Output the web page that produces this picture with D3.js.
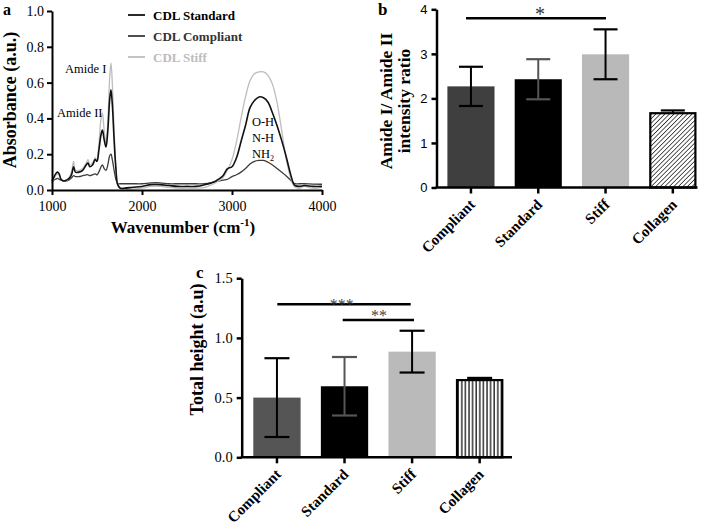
<!DOCTYPE html>
<html><head><meta charset="utf-8">
<script src="https://cdn.jsdelivr.net/npm/d3@7"></script>
<style>body{margin:0;background:#fff}svg{display:block}</style>
</head><body><svg id="chart" width="709" height="526"></svg>
<script>
// ---------- Panel a: FTIR spectra ----------
const wavenumbers = [1000,1020,1040,1060,1080,1100,1130,1160,1200,1220,1240,1260,1300,1340,1380,1400,1420,1450,1480,1500,1520,1545,1560,1580,1600,1620,1640,1655,1670,1690,1710,1730,1760,1800,1900,2000,2100,2200,2300,2400,2500,2600,2700,2800,2850,2900,2950,3000,3050,3100,3150,3200,3250,3300,3350,3400,3450,3500,3550,3600,3650,3680,3700,3750,3800,3900,4000];
const absStandard = [0.05,0.07,0.09,0.10,0.09,0.06,0.05,0.055,0.07,0.09,0.13,0.10,0.10,0.11,0.14,0.15,0.13,0.14,0.17,0.16,0.22,0.31,0.335,0.28,0.24,0.33,0.50,0.56,0.48,0.28,0.12,0.03,0.01,0.01,0.015,0.02,0.03,0.03,0.025,0.02,0.02,0.02,0.03,0.045,0.06,0.08,0.12,0.13,0.18,0.27,0.36,0.46,0.50,0.52,0.515,0.49,0.43,0.36,0.28,0.19,0.09,0.04,0.025,0.02,0.025,0.02,0.02];
const absCompliant = [0.04,0.055,0.06,0.065,0.06,0.055,0.05,0.05,0.06,0.07,0.08,0.075,0.075,0.08,0.085,0.085,0.08,0.085,0.09,0.085,0.10,0.13,0.14,0.12,0.11,0.14,0.19,0.20,0.17,0.11,0.06,0.035,0.035,0.035,0.035,0.035,0.04,0.04,0.035,0.035,0.035,0.035,0.035,0.045,0.05,0.055,0.06,0.075,0.085,0.10,0.12,0.145,0.16,0.165,0.165,0.155,0.14,0.12,0.10,0.08,0.055,0.04,0.035,0.035,0.035,0.033,0.032];
const absStiff = [0.04,0.06,0.08,0.09,0.08,0.06,0.05,0.05,0.08,0.11,0.16,0.11,0.11,0.12,0.15,0.17,0.14,0.15,0.18,0.17,0.25,0.40,0.43,0.33,0.26,0.38,0.62,0.71,0.60,0.34,0.13,0.03,0.01,0.005,0.005,0.01,0.02,0.02,0.015,0.01,0.01,0.01,0.015,0.035,0.05,0.07,0.11,0.17,0.27,0.40,0.52,0.61,0.65,0.66,0.66,0.64,0.59,0.49,0.34,0.18,0.07,0.03,0.015,0.01,0.02,0.01,0.015];
const specTicksX = [1000,2000,3000,4000];
const specTicksY = [0,0.2,0.4,0.6,0.8,1.0];
const seriesNames = ["CDL Standard","CDL Compliant","CDL Stiff"];

// ---------- Panel b & c: bar charts ----------
const groups = ["Compliant","Standard","Stiff","Collagen"];
const ratioMean = [2.27, 2.43, 2.99, 1.69];
const ratioErr  = [0.44, 0.45, 0.56, 0.04];
const ratioTicks = [0,1,2,3,4];
const heightMean = [0.50, 0.595, 0.885, 0.655];
const heightErr  = [0.33, 0.245, 0.175, 0.01];
const heightTicks = [0,0.5,1.0,1.5];

const SERIF = "'Liberation Serif','Times New Roman',serif";
const SANS = "'Liberation Sans',Arial,sans-serif";
const svg = d3.select("#chart");

// patterns
const defs = svg.append("defs");
const pd = defs.append("pattern").attr("id","diag").attr("patternUnits","userSpaceOnUse")
  .attr("width",3.2).attr("height",3.2).attr("patternTransform","rotate(45)");
pd.append("rect").attr("width",3.2).attr("height",3.2).attr("fill","#fff");
pd.append("line").attr("x1",0).attr("y1",0).attr("x2",0).attr("y2",3.2).attr("stroke","#000").attr("stroke-width",1.3);
const pv = defs.append("pattern").attr("id","vert").attr("patternUnits","userSpaceOnUse")
  .attr("width",3.6).attr("height",4);
pv.append("rect").attr("width",3.6).attr("height",4).attr("fill","#fff");
pv.append("line").attr("x1",1).attr("y1",0).attr("x2",1).attr("y2",4).attr("stroke","#000").attr("stroke-width",1.2);

function styleAxis(g, sw){
  g.selectAll("path.domain").attr("stroke","#000").attr("stroke-width",sw);
  g.selectAll(".tick line").attr("stroke","#000").attr("stroke-width",sw);
}

// ===== Panel a =====
const xA = d3.scaleLinear().domain([1000,4000]).range([52,322]);
const yA = d3.scaleLinear().domain([0,1]).range([190,11]);
const gA = svg.append("g");
const series = [
  {vals:absCompliant, color:"#3c3c3c", w:1.3},
  {vals:absStiff, color:"#bdbdbd", w:1.3},
  {vals:absStandard, color:"#111", w:1.6}
];
const line = d3.line().curve(d3.curveCatmullRom.alpha(0.5));
series.forEach(s=>{
  gA.append("path").attr("fill","none").attr("stroke",s.color).attr("stroke-width",s.w)
    .attr("d", line(wavenumbers.map((w,i)=>[xA(w), yA(s.vals[i])])));
});
const axAx = gA.append("g").attr("transform","translate(0,190)")
  .call(d3.axisBottom(xA).tickValues(specTicksX).tickFormat(d3.format("d")).tickSize(5).tickSizeOuter(0).tickPadding(6));
styleAxis(axAx,2);
axAx.selectAll("text").attr("font-family",SERIF).attr("font-size",14).attr("fill","#000");
const axAy = gA.append("g").attr("transform","translate(52,0)")
  .call(d3.axisLeft(yA).tickValues(specTicksY).tickFormat(d3.format(".1f")).tickSize(5).tickSizeOuter(0).tickPadding(3));
styleAxis(axAy,2);
axAy.selectAll("text").attr("font-family",SERIF).attr("font-size",14).attr("fill","#000");

gA.append("text").attr("x",3).attr("y",15).attr("font-family",SERIF).attr("font-weight","bold").attr("font-size",16).text("a");
const xl = gA.append("text").attr("x",183).attr("y",233).attr("text-anchor","middle")
  .attr("font-family",SERIF).attr("font-weight","bold").attr("font-size",17);
xl.append("tspan").text("Wavenumber (cm");
xl.append("tspan").attr("font-size",11).attr("dy",-7).text("-1");
xl.append("tspan").attr("dy",7).text(")");
gA.append("text").attr("transform","translate(16,100) rotate(-90)").attr("text-anchor","middle")
  .attr("font-family",SERIF).attr("font-weight","bold").attr("font-size",18).text("Absorbance (a.u.)");

// legend
const legColors = ["#111","#3c3c3c","#bdbdbd"];
const legText = ["#000","#333","#bdbdbd"];
seriesNames.forEach((n,i)=>{
  const y = 15 + i*21;
  gA.append("line").attr("x1",128).attr("x2",145).attr("y1",y).attr("y2",y).attr("stroke",legColors[i]).attr("stroke-width",1.8);
  gA.append("text").attr("x",153).attr("y",y+4.5).attr("font-family",SERIF).attr("font-weight","bold")
    .attr("font-size",13).attr("fill",legText[i]).text(n);
});
// annotations
const ann = (t,x,y)=>gA.append("text").attr("x",x).attr("y",y).attr("font-family",SERIF).attr("font-size",12.5).attr("fill","#000").text(t);
ann("Amide I",65,73);
ann("Amide II",57,117);
gA.append("text").attr("x",263).attr("y",126).attr("text-anchor","middle").attr("font-family",SERIF).attr("font-size",12.5).text("O-H");
gA.append("text").attr("x",263).attr("y",142).attr("text-anchor","middle").attr("font-family",SERIF).attr("font-size",12.5).text("N-H");
const nh2 = gA.append("text").attr("x",263).attr("y",158).attr("text-anchor","middle").attr("font-family",SERIF).attr("font-size",12.5);
nh2.append("tspan").text("NH");
nh2.append("tspan").attr("font-size",8).attr("dy",3).text("2");

// ===== bar panel helper =====
function barPanel(opt){
  const g = svg.append("g");
  const x = d3.scaleBand().domain(groups).range(opt.xr).paddingInner(0.3).paddingOuter(0);
  const y = d3.scaleLinear().domain(opt.yd).range(opt.yr);
  const bw = x.bandwidth();
  groups.forEach((c,i)=>{
    const v = opt.mean[i], e = opt.err[i];
    const cx = x(c)+bw/2;
    const isCol = i===3;
    if(!isCol){
      g.append("rect").attr("x",x(c)).attr("y",y(v)).attr("width",bw).attr("height",y(0)-y(v)).attr("fill",opt.colors[i]);
    }
    const ec = opt.errColors[i];
    g.append("line").attr("x1",cx).attr("x2",cx).attr("y1",y(v+e)).attr("y2",y(v-e)).attr("stroke",ec).attr("stroke-width",2);
    [v+e, v-e].forEach(t=>g.append("line").attr("x1",cx-opt.cap/2).attr("x2",cx+opt.cap/2).attr("y1",y(t)).attr("y2",y(t)).attr("stroke",ec).attr("stroke-width",2.2));
    if(isCol){
      g.append("rect").attr("x",x(c)+1).attr("y",y(v)+1).attr("width",bw-2).attr("height",y(0)-y(v)-1)
        .attr("fill",`url(#${opt.pattern})`).attr("stroke","#000").attr("stroke-width",2.2);
    }
  });
  // axes
  const ay = g.append("g").attr("transform",`translate(${opt.ax},0)`)
    .call(d3.axisLeft(y).tickValues(opt.ticks).tickFormat(opt.fmt).tickSize(5).tickSizeOuter(0).tickPadding(4));
  styleAxis(ay,2.5);
  ay.selectAll("text").attr("font-family",opt.tickFont).attr("font-size",opt.tickSize).attr("fill","#000");
  const axb = g.append("g").attr("transform",`translate(0,${y(0)})`)
    .call(d3.axisBottom(x).tickSize(6).tickSizeOuter(0).tickFormat(""));
  axb.select("path.domain").remove();
  axb.selectAll(".tick line").attr("stroke","#000").attr("stroke-width",2.5);
  g.append("line").attr("x1",opt.ax-1).attr("x2",opt.xend).attr("y1",y(0)).attr("y2",y(0)).attr("stroke","#000").attr("stroke-width",2.5);
  groups.forEach(c=>{
    const cx = x(c)+bw/2;
    g.append("text").attr("transform",`translate(${cx+5},${y(0)+18}) rotate(-45)`).attr("text-anchor","end")
      .attr("font-family",SERIF).attr("font-weight","bold").attr("font-size",15).attr("fill","#000").text(c);
  });
  return {g,x,y};
}

// ===== Panel b =====
const pb = barPanel({xr:[447.4,696.4], yd:[0,4], yr:[187.5,9.3], mean:ratioMean, err:ratioErr,
  colors:["#3f3f3f","#000","#b9b9b9"], errColors:["#000","#555","#000","#000"], cap:24, pattern:"diag",
  ax:436.5, xend:697.5, ticks:ratioTicks, fmt:d3.format("d"), tickFont:SANS, tickSize:13});
pb.g.append("text").attr("x",378).attr("y",15).attr("font-family",SERIF).attr("font-weight","bold").attr("font-size",17).text("b");
pb.g.append("line").attr("x1",466).attr("x2",606).attr("y1",18.3).attr("y2",18.3).attr("stroke","#000").attr("stroke-width",2.5);
pb.g.append("text").attr("x",540).attr("y",21).attr("text-anchor","middle").attr("font-family",SERIF).attr("font-size",20).attr("fill","#333").text("*");
const ylb = pb.g.append("text").attr("transform","translate(392,101) rotate(-90)").attr("text-anchor","middle")
  .attr("font-family",SERIF).attr("font-weight","bold").attr("font-size",17.5);
ylb.append("tspan").attr("x",0).attr("dy",0).text("Amide I/ Amide II");
ylb.append("tspan").attr("x",0).attr("dy",18).text("intensity ratio");

// ===== Panel c =====
const pc = barPanel({xr:[253.3,503.3], yd:[0,1.5], yr:[457.3,278.2], mean:heightMean, err:heightErr,
  colors:["#555","#000","#bababa"], errColors:["#000","#555","#000","#000"], cap:25, pattern:"vert",
  ax:241.7, xend:512, ticks:heightTicks, fmt:d3.format(".1f"), tickFont:SERIF, tickSize:14.5});
pc.g.append("text").attr("x",196).attr("y",278).attr("font-family",SERIF).attr("font-weight","bold").attr("font-size",17).text("c");
pc.g.append("line").attr("x1",277.3).attr("x2",410.7).attr("y1",304.3).attr("y2",304.3).attr("stroke","#000").attr("stroke-width",2.5);
pc.g.append("line").attr("x1",342.7).attr("x2",414).attr("y1",320).attr("y2",320).attr("stroke","#000").attr("stroke-width",2.5);
pc.g.append("text").attr("x",341.7).attr("y",309.5).attr("text-anchor","middle").attr("font-family",SERIF).attr("font-size",16).attr("fill","#444").text("***");
pc.g.append("text").attr("x",379).attr("y",320.5).attr("text-anchor","middle").attr("font-family",SERIF).attr("font-size",16).attr("fill","#444").text("**");
pc.g.append("text").attr("transform","translate(203,349.5) rotate(-90)").attr("text-anchor","middle")
  .attr("font-family",SERIF).attr("font-weight","bold").attr("font-size",18).text("Total height (a.u)");
</script></body></html>
